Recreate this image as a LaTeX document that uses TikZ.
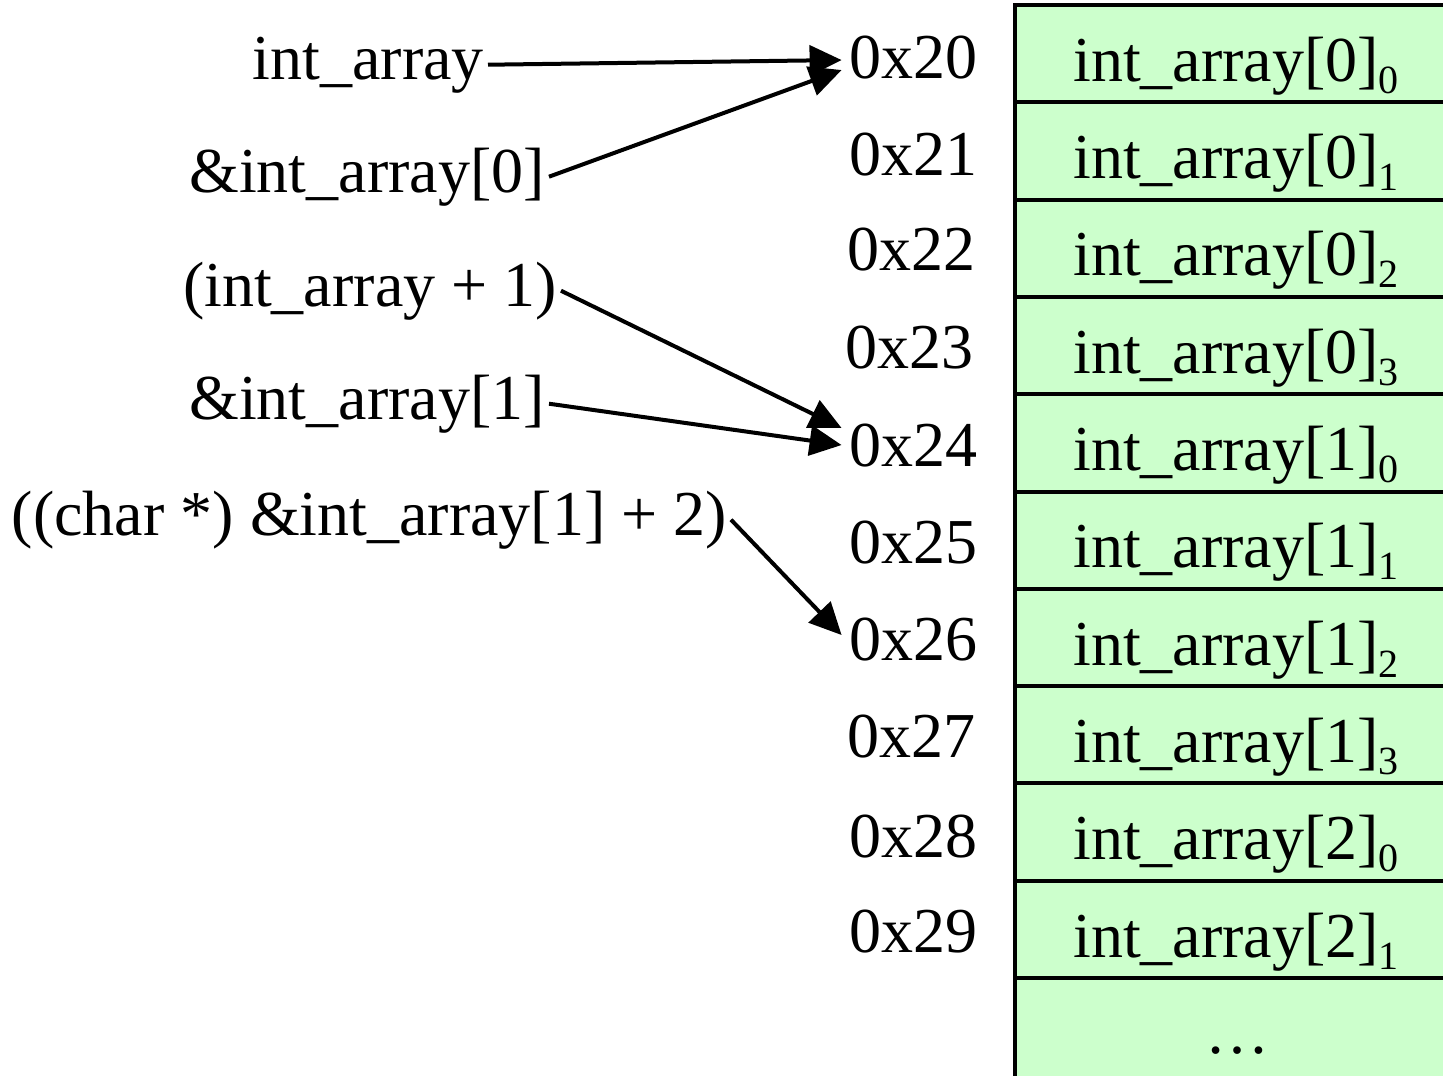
\documentclass[tikz,border=0pt]{standalone}
\usepackage{fontspec}
\setmainfont{Liberation Serif}
\usetikzlibrary{arrows.meta,calc}
\definecolor{cellgreen}{HTML}{CCFFCC}
\newcommand{\sbs}[1]{\raisebox{-12pt}{\fontsize{40}{42}\selectfont #1}}
\begin{document}
\begin{tikzpicture}[x=1pt,y=-1pt,
  lbl/.style={inner xsep=4pt, inner ysep=0pt, font=\fontsize{64}{70}\selectfont, anchor=base east},
  addr/.style={inner xsep=8pt, inner ysep=0pt, font=\fontsize{64}{70}\selectfont, anchor=base east},
  celltxt/.style={inner sep=0pt, font=\fontsize{64}{70}\selectfont, anchor=base west},
  ptr/.style={line width=4pt, -{Triangle[length=32pt,width=30pt]}},
  cellbox/.style={draw, line width=4pt, fill=cellgreen}]
\useasboundingbox (0,0) rectangle (1443,1076);
% memory cells
\foreach \i in {0,...,9} {
  \draw[cellbox] (1015,{5+97.3*\i}) rectangle (1470,{5+97.3*(\i+1)});
}
\draw[cellbox] (1015,978) rectangle (1470,1100);
% cell texts
\node[celltxt] (c0) at (1073,81) {int\_array[0]\sbs{0}};
\node[celltxt] (c1) at (1073,178) {int\_array[0]\sbs{1}};
\node[celltxt] (c2) at (1073,275) {int\_array[0]\sbs{2}};
\node[celltxt] (c3) at (1073,373) {int\_array[0]\sbs{3}};
\node[celltxt] (c4) at (1073,470) {int\_array[1]\sbs{0}};
\node[celltxt] (c5) at (1073,567) {int\_array[1]\sbs{1}};
\node[celltxt] (c6) at (1073,665) {int\_array[1]\sbs{2}};
\node[celltxt] (c7) at (1073,762) {int\_array[1]\sbs{3}};
\node[celltxt] (c8) at (1073,859) {int\_array[2]\sbs{0}};
\node[celltxt] (c9) at (1073,957) {int\_array[2]\sbs{1}};
\node[inner sep=0pt, font=\fontsize{64}{70}\selectfont, anchor=base] (cdots) at (1237,1053) {\ldots};
% addresses
\node[addr] (a20) at (986,78) {0x20};
\node[addr] (a21) at (986,175) {0x21};
\node[addr] (a22) at (984,270) {0x22};
\node[addr] (a23) at (982,368) {0x23};
\node[addr] (a24) at (986,466) {0x24};
\node[addr] (a25) at (986,563) {0x25};
\node[addr] (a26) at (986,660) {0x26};
\node[addr] (a27) at (984,757) {0x27};
\node[addr] (a28) at (986,857) {0x28};
\node[addr] (a29) at (986,952) {0x29};
% pointer expressions
\node[lbl] (p1) at (488,79) {int\_array};
\node[lbl] (p2) at (549,192) {\&int\_array[0]};
\node[lbl] (p3) at (561,306) {(int\_array + 1)};
\node[lbl] (p4) at (549,419) {\&int\_array[1]};
\node[lbl] (p5) at (731,535) {((char *) \&int\_array[1] + 2)};
% arrows
\draw[ptr] (p1.east) -- ($(a20.west)+(0,3)$);
\draw[ptr] (p2.east) -- ($(a20.west)+(0,13)$);
\draw[ptr] (p3.east) -- ($(a24.west)+(0,-17)$);
\draw[ptr] (p4.east) -- (a24.west);
\draw[ptr] (p5.east) -- ($(a26.west)+(0,-4)$);
\end{tikzpicture}
\end{document}
